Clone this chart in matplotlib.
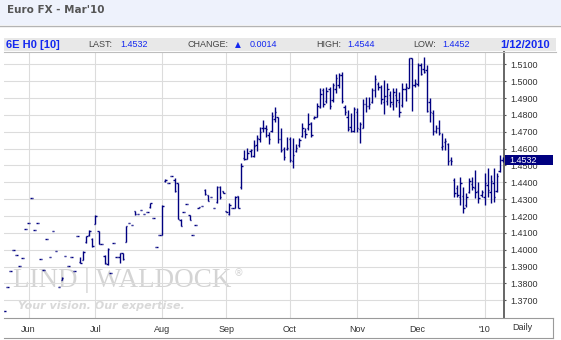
import numpy as np
import pandas as pd
import matplotlib
matplotlib.use('Agg')
import matplotlib.pyplot as plt
import matplotlib.transforms as mtransforms
from matplotlib.patches import Rectangle
from matplotlib.lines import Line2D

# daily bars, Euro FX Mar'10 (6E H0), 19 May 2009 .. 12 Jan 2010
opens = [
    1.3637, 1.378, 1.3872, 1.3998, 1.3967, 1.3903, 1.3949, 1.4121, 1.4158, 1.4305,
    1.4115, 1.4158, 1.3945, 1.388, 1.4062, 1.3955, 1.4111, 1.3992, 1.378, 1.382,
    1.3961, 1.3903, 1.3955, 1.3872, 1.408, 1.3925, 1.394, 1.4045, 1.409, 1.4065,
    1.4155, 1.411, 1.4032, 1.3965, 1.3915, 1.386, 1.4038, 1.3955, 1.3955, 1.398,
    1.4045, 1.4158, 1.4145, 1.4228, 1.4212, 1.4234, 1.4212, 1.4225, 1.4255, 1.4186,
    1.4016, 1.4087, 1.4087, 1.4405, 1.4396, 1.4437, 1.4413, 1.4394, 1.4175, 1.4222,
    1.4271, 1.4206, 1.4086, 1.4147, 1.4245, 1.4258, 1.4355, 1.4322, 1.431, 1.4246,
    1.4285, 1.437, 1.4348, 1.423, 1.421, 1.4248, 1.4245, 1.4318, 1.437, 1.4545,
    1.454, 1.4585, 1.4555, 1.462, 1.4655, 1.4725, 1.4725, 1.468, 1.4705, 1.4775,
    1.4785, 1.4655, 1.4595, 1.460, 1.4655, 1.4525, 1.4588, 1.462, 1.4675, 1.4705,
    1.4725, 1.475, 1.478, 1.479, 1.4845, 1.4945, 1.488, 1.4955, 1.489, 1.4955,
    1.4975, 1.5035, 1.4845, 1.4785, 1.473, 1.4705, 1.4815, 1.4715, 1.4725, 1.4865,
    1.4855, 1.4875, 1.495, 1.4985, 1.4965, 1.4875, 1.4885, 1.492, 1.4865, 1.492,
    1.4875, 1.486, 1.4955, 1.496, 1.5138, 1.4975, 1.4985, 1.5095, 1.5075, 1.5065,
    1.4878, 1.481, 1.4705, 1.4725, 1.461, 1.464, 1.4625, 1.4535, 1.4415, 1.4365,
    1.4315, 1.432, 1.4265, 1.434, 1.439, 1.4365, 1.435, 1.4325, 1.4315, 1.4385,
    1.434, 1.4395, 1.435, 1.4465, 1.4535,
]
highs = [
    1.3637, 1.378, 1.3872, 1.3998, 1.3967, 1.3903, 1.3949, 1.4121, 1.4158, 1.4305,
    1.4115, 1.4158, 1.3945, 1.388, 1.4062, 1.3955, 1.4111, 1.3992, 1.378, 1.384,
    1.3961, 1.3903, 1.3955, 1.3872, 1.408, 1.3955, 1.3992, 1.4081, 1.4117, 1.4068,
    1.4206, 1.4111, 1.4032, 1.3968, 1.4009, 1.386, 1.4038, 1.3955, 1.398, 1.398,
    1.4141, 1.4158, 1.4145, 1.4231, 1.4212, 1.4234, 1.4212, 1.4225, 1.428, 1.4186,
    1.4016, 1.4087, 1.4263, 1.4418, 1.4396, 1.4437, 1.4427, 1.4394, 1.418, 1.4222,
    1.4271, 1.4206, 1.4086, 1.4147, 1.4255, 1.4258, 1.436, 1.4325, 1.431, 1.4246,
    1.4378, 1.4378, 1.435, 1.423, 1.4277, 1.4248, 1.4318, 1.4318, 1.4515, 1.459,
    1.4601, 1.46, 1.465, 1.468, 1.473, 1.477, 1.474, 1.470, 1.4818, 1.4848,
    1.4789, 1.472, 1.4607, 1.4666, 1.467, 1.466, 1.463, 1.466, 1.475, 1.472,
    1.4809, 1.476, 1.4795, 1.4868, 1.4957, 1.4957, 1.4967, 1.4967, 1.4987, 1.504,
    1.5046, 1.5055, 1.4858, 1.483, 1.481, 1.4848, 1.4839, 1.476, 1.4895, 1.4908,
    1.4908, 1.4957, 1.5036, 1.4997, 1.4977, 1.5007, 1.4987, 1.494, 1.4957, 1.4957,
    1.4938, 1.4987, 1.4987, 1.514, 1.514, 1.5011, 1.511, 1.5106, 1.5145, 1.5096,
    1.4898, 1.4829, 1.474, 1.477, 1.469, 1.4661, 1.4631, 1.4552, 1.4424, 1.4384,
    1.4433, 1.4374, 1.4335, 1.4424, 1.4433, 1.4473, 1.4404, 1.4354, 1.4453, 1.4483,
    1.4443, 1.4483, 1.4453, 1.4562, 1.4552,
]
lows = [
    1.3637, 1.378, 1.3872, 1.3998, 1.3967, 1.3903, 1.3949, 1.4121, 1.4158, 1.4305,
    1.4115, 1.4158, 1.3945, 1.388, 1.4062, 1.3955, 1.4111, 1.3992, 1.378, 1.382,
    1.3961, 1.3903, 1.3955, 1.3872, 1.408, 1.392, 1.3939, 1.4042, 1.4081, 1.4018,
    1.4153, 1.4032, 1.4032, 1.3914, 1.391, 1.386, 1.4038, 1.3955, 1.392, 1.394,
    1.4045, 1.4158, 1.4145, 1.4205, 1.4212, 1.4234, 1.4212, 1.4225, 1.425, 1.4186,
    1.4016, 1.4087, 1.4087, 1.4403, 1.4396, 1.4437, 1.4344, 1.418, 1.414, 1.4222,
    1.4271, 1.4174, 1.4086, 1.4147, 1.4245, 1.4258, 1.4325, 1.429, 1.431, 1.4246,
    1.428, 1.430, 1.4335, 1.4225, 1.4205, 1.4248, 1.4245, 1.4245, 1.436, 1.4535,
    1.4536, 1.455, 1.4548, 1.4588, 1.464, 1.47, 1.467, 1.463, 1.47, 1.476,
    1.4631, 1.4581, 1.4532, 1.4591, 1.4522, 1.4487, 1.458, 1.461, 1.467, 1.466,
    1.4709, 1.467, 1.4775, 1.4789, 1.4839, 1.4848, 1.4868, 1.4833, 1.4878, 1.4928,
    1.4957, 1.4868, 1.4798, 1.4705, 1.4697, 1.47, 1.470, 1.4631, 1.472, 1.4816,
    1.4835, 1.4868, 1.4908, 1.4948, 1.4862, 1.4803, 1.4858, 1.4848, 1.4828, 1.4848,
    1.4789, 1.4845, 1.4884, 1.4957, 1.4825, 1.4967, 1.4971, 1.5036, 1.5046, 1.4818,
    1.4759, 1.468, 1.469, 1.468, 1.4591, 1.4591, 1.4502, 1.4502, 1.4315, 1.4315,
    1.4265, 1.4216, 1.4255, 1.4335, 1.4354, 1.4305, 1.4275, 1.4315, 1.4265, 1.4315,
    1.4275, 1.4285, 1.4344, 1.4463, 1.452,
]
closes = [
    1.3637, 1.378, 1.3872, 1.3998, 1.3967, 1.3903, 1.3949, 1.4121, 1.4158, 1.4305,
    1.4115, 1.4158, 1.3945, 1.388, 1.4062, 1.3955, 1.4111, 1.3992, 1.378, 1.3835,
    1.3961, 1.3903, 1.3955, 1.3872, 1.408, 1.392, 1.3985, 1.408, 1.4112, 1.402,
    1.4202, 1.4035, 1.4032, 1.392, 1.4005, 1.386, 1.4038, 1.3955, 1.398, 1.3945,
    1.414, 1.4158, 1.4145, 1.421, 1.4212, 1.4234, 1.4212, 1.4225, 1.4275, 1.4186,
    1.4016, 1.4087, 1.426, 1.4415, 1.4396, 1.4437, 1.435, 1.418, 1.4142, 1.4222,
    1.4271, 1.4175, 1.4086, 1.4147, 1.4255, 1.4258, 1.433, 1.429, 1.431, 1.4246,
    1.4372, 1.431, 1.4337, 1.4225, 1.4265, 1.4248, 1.4315, 1.425, 1.4496, 1.4538,
    1.4575, 1.459, 1.4615, 1.4665, 1.470, 1.4725, 1.4715, 1.4655, 1.4795, 1.482,
    1.4655, 1.459, 1.455, 1.4605, 1.4535, 1.456, 1.4605, 1.4648, 1.472, 1.4685,
    1.4745, 1.468, 1.479, 1.4855, 1.4925, 1.4865, 1.494, 1.4855, 1.4975, 1.502,
    1.5035, 1.4885, 1.4815, 1.4715, 1.4705, 1.4835, 1.4725, 1.4745, 1.4865, 1.4855,
    1.4862, 1.4945, 1.5015, 1.4965, 1.4895, 1.491, 1.4955, 1.4875, 1.4935, 1.489,
    1.4815, 1.4955, 1.4965, 1.5135, 1.4975, 1.499, 1.5095, 1.504, 1.5055, 1.4825,
    1.4819, 1.4705, 1.4725, 1.4695, 1.4615, 1.4645, 1.4525, 1.4525, 1.4335, 1.4325,
    1.4395, 1.4245, 1.4315, 1.441, 1.4375, 1.4345, 1.4305, 1.434, 1.4395, 1.4355,
    1.4405, 1.4315, 1.4435, 1.4535, 1.4532,
]

holidays = ['2009-05-25', '2009-07-03', '2009-09-07', '2009-11-26',
            '2009-12-25', '2010-01-01']
dates = pd.bdate_range('2009-05-19', '2010-01-12', freq='C', holidays=holidays)
month_labels = ['Jun', 'Jul', 'Aug', 'Sep', 'Oct', 'Nov', 'Dec', "'10"]
price_ticks = [1.37, 1.38, 1.39, 1.40, 1.41, 1.42, 1.43, 1.44, 1.45,
               1.46, 1.47, 1.48, 1.49, 1.50, 1.51]

W, H = 561, 340
NAVY = '#000080'
BLUE = '#1428f0'


def fx(x):
    return x / W


def fy(y):
    return 1 - y / H


fig = plt.figure(figsize=(W / 100, H / 100), dpi=100)
fig.patch.set_facecolor('white')

# title band
fig.patches.append(Rectangle((0, fy(25)), 1, 25 / H, transform=fig.transFigure,
                             facecolor='#eef2fc', edgecolor='none', zorder=0))
fig.lines.append(Line2D([0, 1], [fy(25.5), fy(25.5)], transform=fig.transFigure,
                        color='#b4b4b4', lw=1))
fig.text(fx(7), fy(10), "Euro FX - Mar'10", fontsize=7.5, fontweight='bold',
         color='#555555', family='DejaVu Sans', va='center', ha='left')

# quote bar
fig.patches.append(Rectangle((fx(4), fy(51)), fx(552), 13 / H, transform=fig.transFigure,
                             facecolor='#e8e8e8', edgecolor='none', zorder=0))
fig.lines.append(Line2D([fx(4), fx(556)], [fy(51.5), fy(51.5)], transform=fig.transFigure,
                        color='#bdbdbd', lw=0.8))
fam = ['Liberation Sans', 'DejaVu Sans']
yq = fy(44.5)
fig.text(fx(6.5), yq, '6E H0 [10]', fontsize=8, fontweight='bold', color=BLUE,
         family=fam, va='center')
fig.text(fx(88), yq, 'LAST:', fontsize=6.5, color='#444444', family=fam, va='center')
fig.text(fx(120.5), yq, '1.4532', fontsize=6.5, color=BLUE, family=fam, va='center')
fig.text(fx(187), yq, 'CHANGE:', fontsize=6.5, color='#444444', family=fam, va='center')
fig.text(fx(235), yq, '\u25b2', fontsize=5.5, color=BLUE, family='DejaVu Sans', va='center')
fig.text(fx(249.5), yq, '0.0014', fontsize=6.5, color=BLUE, family=fam, va='center')
fig.text(fx(316.5), yq, 'HIGH:', fontsize=6.5, color='#444444', family=fam, va='center')
fig.text(fx(347), yq, '1.4544', fontsize=6.5, color=BLUE, family=fam, va='center')
fig.text(fx(413), yq, 'LOW:', fontsize=6.5, color='#444444', family=fam, va='center')
fig.text(fx(442), yq, '1.4452', fontsize=6.5, color=BLUE, family=fam, va='center')
fig.text(fx(549.5), yq, '1/12/2010', fontsize=8, fontweight='bold', color=BLUE,
         family=fam, va='center', ha='right')

# price panel
ax = fig.add_axes([fx(4), fy(318), (504.3 - 4) / W, (318 - 52) / H])
ax.set_facecolor('white')
x = np.arange(len(dates))
month_pos = [i for i in range(1, len(dates)) if dates[i].month != dates[i - 1].month]

ax.set_xlim(-0.1, 164.5)
ax.set_ylim(1.3595, 1.5173)

# watermark
ax.text(0.018, 0.14, 'LIND | WALDOCK', transform=ax.transAxes, fontsize=19.5,
        family='Liberation Serif', color='#d4d4d4', va='center', ha='left', zorder=0)
ax.text(0.458, 0.17, '\u00ae', transform=ax.transAxes, fontsize=7,
        family='DejaVu Sans', color='#d4d4d4', va='center', ha='left', zorder=0)
ax.text(0.027, 0.045, 'Your vision. Our expertise.', transform=ax.transAxes,
        fontsize=8, fontweight='bold', style='italic', family='DejaVu Sans',
        color='#d9d9d9', va='center', ha='left', zorder=0)

# OHLC bars
tick = 0.45
ax.vlines(x, lows, highs, color=NAVY, lw=1.0, zorder=3)
ax.hlines(opens, x - tick, x, color=NAVY, lw=1.0, zorder=3)
ax.hlines(closes, x, x + tick, color=NAVY, lw=1.0, zorder=3)

ax.set_yticks(price_ticks)
ax.set_yticklabels(['%.4f' % p for p in price_ticks])
ax.yaxis.tick_right()
ax.tick_params(axis='y', length=1.5, width=0.8, color='#555555', pad=2.5,
               labelsize=6.5, labelcolor='#333333')
for lab in ax.get_yticklabels():
    lab.set_family(fam)

ax.set_xticks(month_pos)
ax.set_xticklabels(month_labels)
ax.tick_params(axis='x', length=0, pad=5, labelsize=6.5, labelcolor='#333333')
for lab in ax.get_xticklabels():
    lab.set_family(fam)

ax.grid(True, color='#dcdcdc', lw=0.8, zorder=0)
ax.set_axisbelow(True)
for side in ['left', 'top']:
    ax.spines[side].set_visible(False)
ax.spines['bottom'].set_visible(False)
ax.spines['right'].set_color('#666666')
ax.spines['right'].set_linewidth(1.4)

# last price marker (sits over the 1.4500 label, as on the original)
blend = mtransforms.blended_transform_factory(ax.transAxes, ax.transData)
last = closes[-1]
half = 4.6 / 1686
ax.add_patch(Rectangle((1.0015, last - half), 48 / 500.3, 2 * half, transform=blend,
                       facecolor=NAVY, edgecolor='none', clip_on=False, zorder=5))
ax.text(1.0 + 5 / 500.3, last, '%.4f' % last, transform=blend, fontsize=6.5,
        color='white', family=fam, va='center', ha='left', zorder=6, clip_on=False)

# bottom frame lines
fig.lines.append(Line2D([fx(4), fx(553)], [fy(318), fy(318)], transform=fig.transFigure,
                        color='#9a9a9a', lw=0.8))
fig.lines.append(Line2D([fx(4), fx(553)], [fy(337.5), fy(337.5)], transform=fig.transFigure,
                        color='#9a9a9a', lw=0.8))
fig.lines.append(Line2D([fx(553), fx(553)], [fy(318), fy(337.5)], transform=fig.transFigure,
                        color='#9a9a9a', lw=0.8))
fig.text(fx(522), fy(327.5), 'Daily', fontsize=6.5, color='#333333', family=fam,
         va='center', ha='center')

fig.savefig('out.png', dpi=100)
